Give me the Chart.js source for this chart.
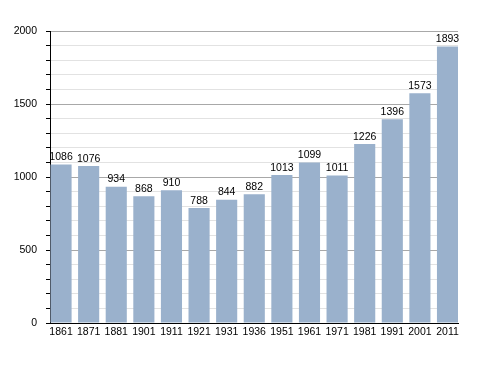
<!DOCTYPE html>
<html>
<head>
<meta charset="utf-8">
<script src="https://cdn.jsdelivr.net/npm/chart.js@4/dist/chart.umd.min.js"></script>
<style>
html,body{margin:0;padding:0;background:#fff;}
#wrap{width:488px;height:373px;position:relative;}
</style>
</head>
<body>
<div id="wrap"><canvas id="c" width="488" height="373"></canvas></div>
<script>
const years = ['1861','1871','1881','1901','1911','1921','1931','1936','1951','1961','1971','1981','1991','2001','2011'];
const population = [1086,1076,934,868,910,788,844,882,1013,1099,1011,1226,1396,1573,1893];
const yMin = 0, yMax = 2000, yMinorStep = 100, yMajorStep = 500;

const points = population.map((v, i) => ({ x: i, y: v }));

const labelPlugin = {
  id: 'valueLabels',
  afterDatasetsDraw(chart) {
    const ctx = chart.ctx;
    const meta = chart.getDatasetMeta(0);
    ctx.save();
    ctx.font = '10.5px "Liberation Sans", Arial, sans-serif';
    ctx.fillStyle = '#000';
    ctx.textAlign = 'center';
    ctx.textBaseline = 'bottom';
    meta.data.forEach((bar, i) => {
      ctx.fillText(String(population[i]), bar.x, bar.y - 2);
    });
    ctx.restore();
  }
};

new Chart(document.getElementById('c'), {
  type: 'bar',
  data: {
    datasets: [{
      data: points,
      backgroundColor: '#9ab1cc',
      borderWidth: 0,
      barPercentage: 0.765,
      categoryPercentage: 1.0
    }]
  },
  options: {
    responsive: false,
    animation: false,
    devicePixelRatio: 1,
    layout: { padding: { top: 31, left: 0, right: 30, bottom: 30 } },
    plugins: { legend: { display: false }, tooltip: { enabled: false } },
    scales: {
      x: {
        type: 'linear',
        min: -0.4,
        max: years.length - 1 + 0.38,
        offset: false,
        grid: { display: false, drawTicks: false },
        border: { display: true, color: '#000', width: 1 },
        afterBuildTicks(scale) { scale.ticks = years.map((_, i) => ({ value: i })); },
        ticks: {
          color: '#000',
          font: { family: '"Liberation Sans", Arial, sans-serif', size: 10.5 },
          padding: 3,
          maxRotation: 0,
          autoSkip: false,
          callback(v) { return years[v] !== undefined ? years[v] : ''; }
        },
        afterFit(scale) { scale.height = 20; }
      },
      y: {
        min: yMin,
        max: yMax,
        grid: {
          color(ctx) {
            const v = ctx.tick ? ctx.tick.value : 0;
            return v % yMajorStep === 0 ? '#a8a8a8' : '#e2e2e2';
          },
          tickColor: '#000',
          tickLength: 4,
          lineWidth: 1
        },
        border: { display: true, color: '#000', width: 1 },
        ticks: {
          stepSize: yMinorStep,
          autoSkip: false,
          color: '#000',
          font: { family: '"Liberation Sans", Arial, sans-serif', size: 10.5 },
          padding: 9,
          callback(v) { return v % yMajorStep === 0 ? String(v) : ''; }
        },
        afterFit(scale) { scale.width = 50; }
      }
    }
  },
  plugins: [labelPlugin]
});
</script>
</body>
</html>
